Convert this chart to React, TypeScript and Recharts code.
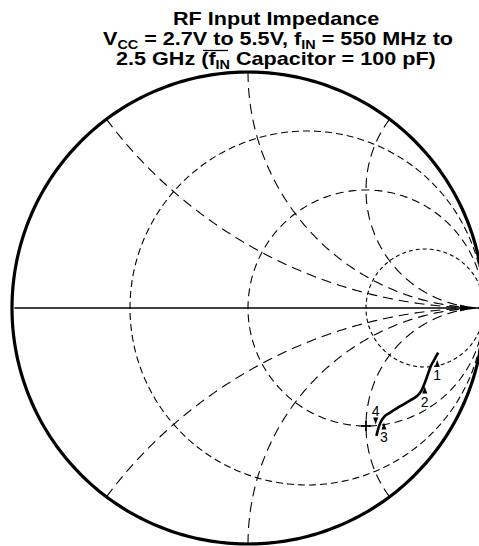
import React from "react";
import { LineChart, Line, XAxis, YAxis } from "recharts";

const WIDTH = 479;
const HEIGHT = 546;
const CENTER_X = 248;
const CENTER_Y = 308;
const RADIUS = 236;

// Smith chart grid values
const RESISTANCE_VALUES = [1 / 3, 1, 3];
const RESISTANCE_DASH = ["7 4", "8 5", "4 3"];
const REACTANCE_VALUES = [0.5, 1, 2, -0.5, -1, -2];

const TRACE_RE = [0.544, 0.552, 0.563, 0.578, 0.602, 0.644, 0.686, 0.716, 0.735, 0.748, 0.761, 0.773, 0.786, 0.806];
const TRACE_IM = [-0.542, -0.511, -0.482, -0.46, -0.443, -0.417, -0.392, -0.373, -0.35, -0.32, -0.284, -0.25, -0.225, -0.189];

// frequency markers along the trace
const MARKER_LABELS = ["1", "2", "3", "4"];
const MARKER_RE = [0.802, 0.749, 0.576, 0.541];
const MARKER_IM = [-0.237, -0.35, -0.502, -0.477];
const MARKER_UP = [true, true, true, false];

const FONT = "'Liberation Sans', Arial, Helvetica, sans-serif";

function resistanceCircle(r: number) {
  const c = r / (1 + r);
  const rad = 1 / (1 + r);
  const pts = [];
  for (let i = 0; i <= 360; i++) {
    const a = (i / 360) * 2 * Math.PI;
    pts.push({ x: c + rad * Math.cos(a), y: rad * Math.sin(a) });
  }
  return pts;
}

function reactanceArc(x: number) {
  const ax = Math.abs(x);
  const sign = x < 0 ? -1 : 1;
  const p0x = (ax * ax - 1) / (ax * ax + 1);
  const p0y = (2 * ax) / (ax * ax + 1);
  let a0 = Math.atan2(p0y - 1 / ax, p0x - 1);
  if (a0 < 0) a0 += 2 * Math.PI;
  const a1 = 1.5 * Math.PI;
  const pts = [];
  for (let i = 0; i <= 200; i++) {
    const a = a0 + ((a1 - a0) * i) / 200;
    pts.push({ x: 1 + Math.cos(a) / ax, y: sign * (1 / ax + Math.sin(a) / ax) });
  }
  return pts;
}

const outerCircle = resistanceCircle(0);
const axisLine = [{ x: -0.99, y: 0 }, { x: 1, y: 0 }];
const traceData = TRACE_RE.map((x, i) => ({ x, y: TRACE_IM[i] }));
const markerData = MARKER_RE.map((x, i) => ({ x, y: MARKER_IM[i] }));
const arrowData = [{ x: 0.924, y: 0 }];
const crossData = [{ x: 0.5, y: -0.5 }];

function MarkerDot(props: any) {
  const { cx, cy, index } = props;
  const up = MARKER_UP[index];
  const tri = up
    ? `${cx},${cy - 4} ${cx - 2.5},${cy + 3} ${cx + 2.5},${cy + 3}`
    : `${cx},${cy + 4} ${cx - 2.5},${cy - 3} ${cx + 2.5},${cy - 3}`;
  return (
    <g key={`m${index}`}>
      <polygon points={tri} fill="#000" />
      <text x={cx} y={up ? cy + 16 : cy - 4.5} textAnchor="middle" fontSize={14} fontFamily={FONT} fill="#000">
        {MARKER_LABELS[index]}
      </text>
    </g>
  );
}

function ArrowDot(props: any) {
  const { cx, cy, index } = props;
  return <polygon key={`a${index}`} points={`${cx + 6},${cy} ${cx - 6},${cy - 3.5} ${cx - 6},${cy + 3.5}`} fill="#000" />;
}

function CrossDot(props: any) {
  const { cx, cy, index } = props;
  return (
    <g key={`c${index}`} stroke="#000" strokeWidth={1.8}>
      <line x1={cx - 5} y1={cy} x2={cx + 5} y2={cy} />
      <line x1={cx} y1={cy - 5} x2={cx} y2={cy + 5} />
    </g>
  );
}

export default function App() {
  const xDomain = [(0 - CENTER_X) / RADIUS, (WIDTH - CENTER_X) / RADIUS];
  const yDomain = [(CENTER_Y - HEIGHT) / RADIUS, CENTER_Y / RADIUS];
  return (
    <div style={{ position: "absolute", left: 0, top: 0, width: WIDTH, height: HEIGHT, background: "#fff" }}>
      <LineChart width={WIDTH} height={HEIGHT} margin={{ top: 0, right: 0, bottom: 0, left: 0 }}>
        <XAxis type="number" dataKey="x" domain={xDomain} allowDataOverflow hide />
        <YAxis type="number" dataKey="y" domain={yDomain} allowDataOverflow hide />
        {RESISTANCE_VALUES.map((r, i) => (
          <Line
            key={`r${i}`}
            data={resistanceCircle(r)}
            dataKey="y"
            type="linear"
            stroke="#000"
            strokeWidth={1.1}
            strokeDasharray={RESISTANCE_DASH[i]}
            dot={false}
            activeDot={false}
            isAnimationActive={false}
          />
        ))}
        {REACTANCE_VALUES.map((x, i) => (
          <Line
            key={`x${i}`}
            data={reactanceArc(x)}
            dataKey="y"
            type="linear"
            stroke="#000"
            strokeWidth={1.1}
            strokeDasharray="10 6"
            dot={false}
            activeDot={false}
            isAnimationActive={false}
          />
        ))}
        <Line data={axisLine} dataKey="y" type="linear" stroke="#000" strokeWidth={1.6} dot={false} activeDot={false} isAnimationActive={false} />
        <Line data={outerCircle} dataKey="y" type="linear" stroke="#000" strokeWidth={3.2} dot={false} activeDot={false} isAnimationActive={false} />
        <Line data={traceData} dataKey="y" type="monotone" stroke="#000" strokeWidth={2.6} dot={false} activeDot={false} isAnimationActive={false} />
        <Line data={markerData} dataKey="y" stroke="none" dot={MarkerDot} activeDot={false} isAnimationActive={false} />
        <Line data={arrowData} dataKey="y" stroke="none" dot={ArrowDot} activeDot={false} isAnimationActive={false} />
        <Line data={crossData} dataKey="y" stroke="none" dot={CrossDot} activeDot={false} isAnimationActive={false} />
      </LineChart>
      <svg width={WIDTH} height={80} style={{ position: "absolute", left: 0, top: 0, pointerEvents: "none" }}>
        <g fontFamily={FONT} fontWeight="bold" fontSize={18} fill="#000">
          <text transform="translate(173,25) scale(1.2,1)">RF Input Impedance</text>
          <text transform="translate(103,45) scale(1.2,1)">
            V<tspan fontSize={12} dy={4}>CC</tspan>
            <tspan dy={-4}> = 2.7V to 5.5V, f</tspan>
            <tspan fontSize={12} dy={4}>IN</tspan>
            <tspan dy={-4}> = 550 MHz to</tspan>
          </text>
          <text transform="translate(116,65) scale(1.2,1)">
            2.5 GHz (f<tspan fontSize={12} dy={4}>IN</tspan>
            <tspan dy={-4}> Capacitor = 100 pF)</tspan>
          </text>
        </g>
        <line x1={203} y1={50.5} x2={228} y2={50.5} stroke="#000" strokeWidth={1.3} />
      </svg>
    </div>
  );
}
